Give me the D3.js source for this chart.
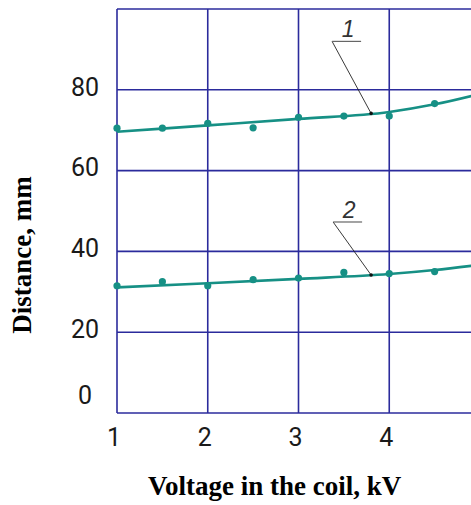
<!DOCTYPE html>
<html>
<head>
<meta charset="utf-8">
<script src="https://cdn.jsdelivr.net/npm/d3@7"></script>
<style>
  body { margin: 0; background: #fff; }
  svg { display: block; }
</style>
</head>
<body>
<svg id="drawing_region"></svg>
<script>
// measured points (voltage kV, distance mm)
const voltage = [1.0, 1.5, 2.0, 2.5, 3.0, 3.5, 4.0, 4.5];
const curve1Points = [70.5, 70.5, 71.7, 70.6, 73.2, 73.5, 73.5, 76.6];
const curve2Points = [31.5, 32.5, 31.5, 33.0, 33.4, 34.8, 34.5, 35.0];

// fitted lines
const fitVoltage = [1, 2, 3, 4, 4.5, 5];
const curve1Fit = [69.6, 71.2, 72.8, 74.5, 76.4, 79.0];
const curve2Fit = [31.1, 32.1, 33.2, 34.4, 35.4, 36.7];

const gridX = [1, 2, 3, 4, 5];
const xTickLabels = [1, 2, 3, 4];
const yTicks = [0, 20, 40, 60, 80];
const curveLabels = ['1', '2'];
const labelVoltage = 3.8;

const width = 471, height = 505;
const svg = d3.select('#drawing_region')
    .attr('width', width)
    .attr('height', height);

const xscale = d3.scaleLinear().domain([1, 5]).range([117, 480]);
const yscale = d3.scaleLinear().domain([0, 100]).range([413, 9]);

const gridColor = '#2b2b9c';
const lineColor = '#169085';

// grid
svg.append('g')
    .selectAll('line')
    .data(gridX)
    .join('line')
    .attr('x1', d => xscale(d)).attr('x2', d => xscale(d))
    .attr('y1', yscale(100)).attr('y2', yscale(0))
    .attr('stroke', gridColor).attr('stroke-width', 1.6);

svg.append('g')
    .selectAll('line')
    .data(yTicks.concat([100]))
    .join('line')
    .attr('x1', xscale(1)).attr('x2', xscale(5))
    .attr('y1', d => yscale(d)).attr('y2', d => yscale(d))
    .attr('stroke', gridColor).attr('stroke-width', 1.6);

// tick labels
const tickFont = 'Roboto, "DejaVu Sans Condensed", sans-serif';
svg.append('g')
    .selectAll('text')
    .data(yTicks)
    .join('text')
    .attr('x', 85)
    .attr('y', d => yscale(d) + (d === 0 ? -18 : -3))
    .attr('dy', '0.35em')
    .attr('text-anchor', 'middle')
    .attr('font-family', tickFont)
    .attr('font-size', 25)
    .attr('fill', '#1a1a1a')
    .text(d => d);

svg.append('g')
    .selectAll('text')
    .data(xTickLabels)
    .join('text')
    .attr('x', d => xscale(d) - 3)
    .attr('y', 437)
    .attr('dy', '0.35em')
    .attr('text-anchor', 'middle')
    .attr('font-family', tickFont)
    .attr('font-size', 25)
    .attr('fill', '#1a1a1a')
    .text(d => d);

// fitted curves
const line = d3.line()
    .x(d => xscale(d[0]))
    .y(d => yscale(d[1]))
    .curve(d3.curveMonotoneX);

[curve1Fit, curve2Fit].forEach(fit => {
    svg.append('path')
        .attr('d', line(fitVoltage.map((v, i) => [v, fit[i]])))
        .attr('fill', 'none')
        .attr('stroke', lineColor)
        .attr('stroke-width', 2.6);
});

// points
[curve1Points, curve2Points].forEach(pts => {
    svg.append('g')
        .selectAll('circle')
        .data(voltage.map((v, i) => [v, pts[i]]))
        .join('circle')
        .attr('cx', d => xscale(d[0]))
        .attr('cy', d => yscale(d[1]))
        .attr('r', 3.6)
        .attr('fill', lineColor);
});

// curve labels with leaders
const leaderOffsets = [{dx: -39, dy: -72}, {dx: -38, dy: -53}];
[curve1Fit, curve2Fit].forEach((fit, i) => {
    const yv = d3.scaleLinear().domain(fitVoltage).range(fit)(labelVoltage);
    const ax = xscale(labelVoltage), ay = yscale(yv);
    const ux = ax + leaderOffsets[i].dx, uy = ay + leaderOffsets[i].dy;
    svg.append('line')
        .attr('x1', ux).attr('y1', uy).attr('x2', ax).attr('y2', ay)
        .attr('stroke', '#222').attr('stroke-width', 0.9);
    svg.append('line')
        .attr('x1', ux).attr('y1', uy).attr('x2', ux + 29).attr('y2', uy)
        .attr('stroke', '#666').attr('stroke-width', 1.2);
    svg.append('circle')
        .attr('cx', ax).attr('cy', ay).attr('r', 1.8).attr('fill', '#111');
    svg.append('text')
        .attr('x', ux + 16)
        .attr('y', uy - 4)
        .attr('text-anchor', 'middle')
        .attr('font-family', '"Liberation Sans", Arial, sans-serif')
        .attr('font-style', 'italic')
        .attr('font-size', 23)
        .attr('fill', '#333')
        .text(curveLabels[i]);
});

// axis titles
svg.append('text')
    .attr('transform', 'translate(31, 255) rotate(-90)')
    .attr('text-anchor', 'middle')
    .attr('font-family', '"Liberation Serif", "Times New Roman", serif')
    .attr('font-weight', 'bold')
    .attr('font-size', 27)
    .attr('fill', '#000')
    .text('Distance, mm');

svg.append('text')
    .attr('x', 148)
    .attr('y', 495)
    .attr('font-family', '"Liberation Serif", "Times New Roman", serif')
    .attr('font-weight', 'bold')
    .attr('font-size', 27)
    .attr('fill', '#000')
    .text('Voltage in the coil, kV');
</script>
</body>
</html>
